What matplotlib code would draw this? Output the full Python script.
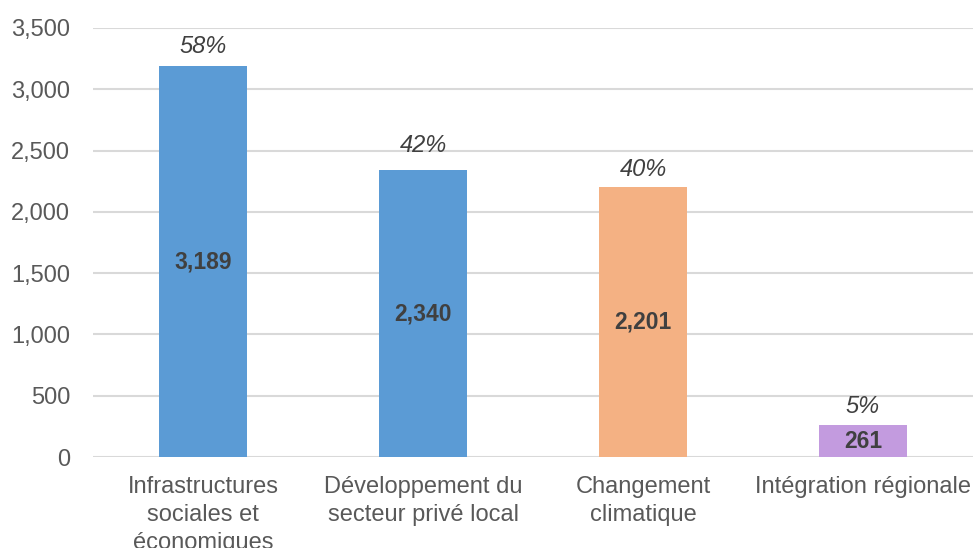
import matplotlib
matplotlib.use("Agg")
import matplotlib.pyplot as plt
from matplotlib.ticker import FuncFormatter

plt.rcParams['font.family'] = ['Liberation Sans', 'DejaVu Sans']

categories = ["Infrastructures\nsociales et\néconomiques",
              "Développement du\nsecteur privé local",
              "Changement\nclimatique",
              "Intégration régionale"]
values = [3189, 2340, 2201, 261]
percents = ["58%", "42%", "40%", "5%"]
colors = ["#5B9BD5", "#5B9BD5", "#F4B183", "#C39BDF"]
yticks = [0, 500, 1000, 1500, 2000, 2500, 3000, 3500]

# label offsets above bars (points) - layout only
pct_offsets = [9.5, 13, 8, 9]

fig = plt.figure(figsize=(9.75, 5.48), dpi=100)
ax = fig.add_axes([93/975, 1-457/548, 880/975, (457-28)/548])

x = list(range(len(values)))
bars = ax.bar(x, values, width=0.4, color=colors, zorder=3)

for xi, v, p, off in zip(x, values, percents, pct_offsets):
    ax.text(xi, v/2, f"{v:,}", ha="center", va="center", fontsize=16.5,
            fontweight="bold", color="#404040", zorder=4)
    ax.annotate(p, (xi, v), xytext=(0, off), textcoords="offset points",
                ha="center", va="baseline", fontsize=17, style="italic",
                color="#404040")

ax.set_xlim(-0.5, 3.5)
ax.set_ylim(0, 3500)
ax.set_yticks(yticks)
ax.yaxis.set_major_formatter(FuncFormatter(lambda v, _: f"{int(v):,}"))
ax.set_xticks(x)
ax.set_xticklabels(categories, fontsize=17, color="#595959", linespacing=1.35)
ax.tick_params(axis="y", labelsize=17, labelcolor="#595959", length=0, pad=16.5)
ax.tick_params(axis="x", length=0, pad=14)
ax.grid(axis="y", color="#D9D9D9", linewidth=1.5, zorder=0)
for s in ax.spines.values():
    s.set_visible(False)

fig.savefig("out.png", dpi=100)
